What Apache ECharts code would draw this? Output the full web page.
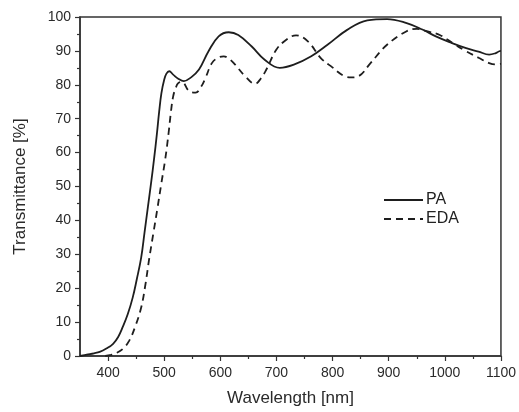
<!DOCTYPE html>
<html>
<head>
<meta charset="utf-8">
<script src="https://cdn.jsdelivr.net/npm/echarts@6/dist/echarts.min.js"></script>
<style>
  html, body { margin: 0; padding: 0; background: #fff; }
  #chart { width: 519px; height: 412px; }
</style>
</head>
<body>
<div id="chart"></div>
<script>
// wavelength (nm) / transmittance (%)
const paWavelength = [350, 362, 375, 385, 397, 409, 418, 426, 435, 444, 451, 459, 465, 471, 477, 482, 487, 491, 495, 500, 504, 509, 516, 525, 535, 548, 562, 579, 597, 615, 632, 656, 679, 706, 732, 762, 791, 826, 862, 897, 932, 960, 985, 1010, 1038, 1060, 1079, 1090, 1097, 1100];
const paValues = [0, 0.4, 0.8, 1.2, 2.2, 3.6, 5.6, 8.5, 12.3, 17.3, 22.5, 29, 36.5, 44, 51.5, 58.2, 65.5, 72, 77.5, 81.5, 83.3, 84, 83, 81.8, 81.1, 82.2, 84.5, 89.9, 94.3, 95.5, 94.7, 91.3, 87.4, 85, 86, 88.4, 91.8, 96.2, 99, 99.4, 98.2, 96.3, 94.2, 92.5, 90.8, 89.8, 88.9, 89.3, 89.9, 90];

const edaWavelength = [395, 405, 415, 427, 438, 448, 459, 466, 473.5, 481, 488, 495, 502, 508, 512, 516, 520.6, 525, 532, 544, 556, 566, 573.5, 585, 596, 606, 616, 626, 644, 662, 672, 682, 700, 717.6, 735, 756, 779, 797, 820.6, 834, 847, 867.6, 897, 932, 950, 967.6, 991, 1015, 1038, 1060, 1079, 1090, 1100];
const edaValues = [0, 0.3, 0.9, 2.2, 4.6, 8.5, 14.3, 20.5, 28.9, 36.5, 43.6, 51, 58.2, 66, 72, 76.6, 79.1, 80.5, 80.8, 78.2, 77.7, 79.5, 82, 86.4, 88, 88.4, 87.6, 86, 82.6, 80.3, 81.8, 84.5, 90.4, 93.3, 94.6, 92.8, 87.9, 85.5, 82.6, 82.2, 82.6, 86.4, 91.8, 95.8, 96.5, 95.8, 94.7, 92.2, 89.9, 88, 86.4, 86, 86.2];

const xMajorTicks = [400, 500, 600, 700, 800, 900, 1000, 1100];
const xMinorTicks = [450, 550, 650, 750, 850, 950, 1050];

const pairs = (xs, ys) => xs.map((x, i) => [x, ys[i]]);

const chart = echarts.init(document.getElementById("chart"), null, { renderer: "canvas" });

const fontFamily = "'Liberation Sans', Arial, sans-serif";
const inkColor = "#1e1e1e";
const textColor = "#2a2a2a";

const option = {
  animation: false,
  backgroundColor: "#fff",
  textStyle: { fontFamily: fontFamily },
  grid: {
    left: 80,
    right: 14,
    top: 17,
    bottom: 53,
    show: true,
    borderColor: "#333",
    borderWidth: 1.5,
    backgroundColor: "transparent",
  },
  legend: {
    orient: "vertical",
    left: 378,
    top: 187,
    itemWidth: 39,
    itemHeight: 14,
    itemGap: 3,
    textStyle: { fontSize: 16, color: "#222", fontFamily: fontFamily, padding: [0, 0, 0, -2] },
    itemStyle: { opacity: 0 },
    data: ["PA", "EDA"],
  },
  xAxis: [
    {
      type: "value",
      min: 350,
      max: 1100,
      name: "Wavelength [nm]",
      nameLocation: "middle",
      nameGap: 34,
      nameTextStyle: { fontSize: 17, color: textColor },
      axisLine: { show: true, lineStyle: { color: "#333", width: 1.5 } },
      axisTick: {
        show: true,
        length: 5,
        customValues: xMajorTicks,
        lineStyle: { color: "#333", width: 1.2 },
      },
      axisLabel: {
        customValues: xMajorTicks,
        formatter: (v) => String(v),
        fontSize: 14,
        color: textColor,
        margin: 10,
        showMaxLabel: true,
      },
      splitLine: { show: false },
    },
    {
      type: "value",
      min: 350,
      max: 1100,
      position: "bottom",
      axisLine: { show: false },
      axisTick: {
        show: true,
        length: 3,
        customValues: xMinorTicks,
        lineStyle: { color: "#333", width: 1.2 },
      },
      axisLabel: { show: false },
      splitLine: { show: false },
    },
  ],
  yAxis: {
    type: "value",
    min: 0,
    max: 100,
    interval: 10,
    name: "Transmittance [%]",
    nameLocation: "middle",
    nameGap: 51,
    nameTextStyle: { fontSize: 17, color: textColor },
    axisLine: { show: true, lineStyle: { color: "#333", width: 1.5 } },
    axisTick: { show: true, length: 5, lineStyle: { color: "#333", width: 1.2 } },
    minorTick: { show: true, splitNumber: 2, length: 3, lineStyle: { color: "#333", width: 1.2 } },
    axisLabel: { fontSize: 14, color: textColor, margin: 9 },
    splitLine: { show: false },
  },
  series: [
    {
      name: "PA",
      type: "line",
      xAxisIndex: 0,
      data: pairs(paWavelength, paValues),
      smooth: 0.4,
      symbol: "none",
      lineStyle: { color: inkColor, width: 1.8 },
      itemStyle: { color: inkColor },
      z: 3,
    },
    {
      name: "EDA",
      type: "line",
      xAxisIndex: 0,
      data: pairs(edaWavelength, edaValues),
      smooth: 0.4,
      symbol: "none",
      lineStyle: { color: inkColor, width: 1.8, type: [7, 5] },
      itemStyle: { color: inkColor },
      z: 2,
    },
  ],
};

chart.setOption(option);
</script>
</body>
</html>
